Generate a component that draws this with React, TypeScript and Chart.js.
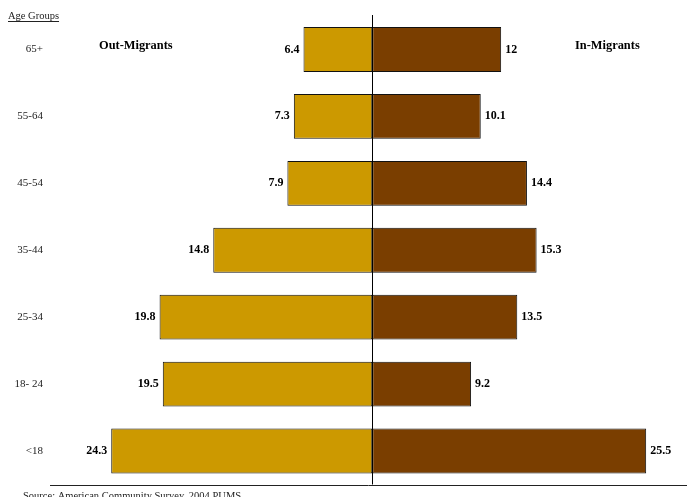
import React, { useEffect, useRef } from "react";
import { Chart, registerables } from "chart.js";

Chart.register(...registerables);

const ageGroups = ["65+", "55-64", "45-54", "35-44", "25-34", "18- 24", "<18"];
const outMigrants = [6.4, 7.3, 7.9, 14.8, 19.8, 19.5, 24.3];
const inMigrants = [12, 10.1, 14.4, 15.3, 13.5, 9.2, 25.5];

const SERIF = "'Liberation Serif', 'Times New Roman', serif";

export default function App() {
  const ref = useRef<HTMLCanvasElement | null>(null);

  useEffect(() => {
    if (!ref.current) return;
    const overlay = {
      id: "overlay",
      afterDatasetsDraw(chart: any) {
        const ctx = chart.ctx;
        const x = chart.scales.x;
        const y = chart.scales.y;
        const area = chart.chartArea;
        ctx.save();
        // center line
        ctx.strokeStyle = "#000";
        ctx.lineWidth = 1;
        const cx = Math.round(x.getPixelForValue(0)) + 0.5;
        ctx.beginPath();
        ctx.moveTo(cx, 15);
        ctx.lineTo(cx, area.bottom);
        ctx.stroke();
        // bottom line
        ctx.strokeStyle = "#222";
        ctx.beginPath();
        ctx.moveTo(area.left, Math.round(area.bottom) + 0.5);
        ctx.lineTo(area.right, Math.round(area.bottom) + 0.5);
        ctx.stroke();

        // category labels
        ctx.fillStyle = "#222";
        ctx.font = `11px ${SERIF}`;
        ctx.textAlign = "right";
        ctx.textBaseline = "middle";
        ageGroups.forEach((g, i) => {
          ctx.fillText(g, 43, y.getPixelForValue(i));
        });

        // value labels
        ctx.font = `bold 12px ${SERIF}`;
        ctx.fillStyle = "#000";
        outMigrants.forEach((v, i) => {
          ctx.textAlign = "right";
          ctx.fillText(String(v), x.getPixelForValue(-v) - 4, y.getPixelForValue(i));
        });
        inMigrants.forEach((v, i) => {
          ctx.textAlign = "left";
          ctx.fillText(String(v), x.getPixelForValue(v) + 4, y.getPixelForValue(i));
        });

        // series titles
        ctx.font = `bold 12.4px ${SERIF}`;
        ctx.textAlign = "left";
        ctx.fillText("Out-Migrants", 99, 46);
        ctx.fillText("In-Migrants", 575, 46);

        // axis title
        ctx.font = `10.5px ${SERIF}`;
        ctx.fillStyle = "#222";
        ctx.textAlign = "left";
        ctx.fillText("Age Groups", 8, 16);
        const w = ctx.measureText("Age Groups").width;
        ctx.beginPath();
        ctx.moveTo(8, 21.5);
        ctx.lineTo(8 + w, 21.5);
        ctx.stroke();

        // source
        ctx.fillText("Source: American Community Survey, 2004 PUMS", 23, 496);
        ctx.restore();
      },
    };

    const chart = new Chart(ref.current, {
      type: "bar",
      data: {
        labels: ageGroups,
        datasets: [
          {
            label: "Out-Migrants",
            data: outMigrants.map((v) => -v),
            backgroundColor: "#CC9900",
            borderColor: "#111",
            borderWidth: 1,
            borderSkipped: false,
            barPercentage: 0.67,
            categoryPercentage: 1,
          },
          {
            label: "In-Migrants",
            data: inMigrants,
            backgroundColor: "#7A3E00",
            borderColor: "#111",
            borderWidth: 1,
            borderSkipped: false,
            barPercentage: 0.67,
            categoryPercentage: 1,
          },
        ],
      },
      options: {
        indexAxis: "y",
        responsive: false,
        animation: false,
        layout: { padding: { left: 50, right: 0, top: 16, bottom: 12.5 } },
        plugins: {
          legend: { display: false },
          tooltip: { enabled: false },
        },
        scales: {
          x: { stacked: true, display: false, min: -30, max: 29.3 },
          y: { stacked: true, display: false },
        },
      },
      plugins: [overlay],
    });
    return () => chart.destroy();
  }, []);

  return (
    <div style={{ position: "fixed", left: 0, top: 0, width: 687, height: 497, background: "#fff" }}>
      <canvas ref={ref} width={687} height={497} style={{ width: 687, height: 497 }} />
    </div>
  );
}
